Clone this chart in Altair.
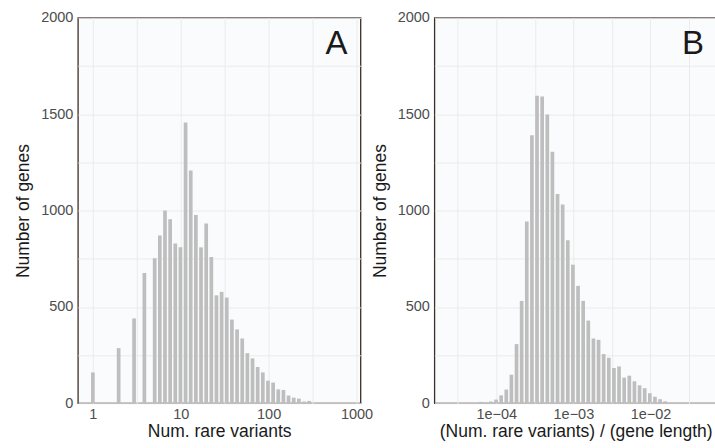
import altair as alt
import pandas as pd

# ---------------- data ----------------
# Panel A: histogram on log10 scale; bins are centred at k * A_BIN_WIDTH (log10 units)
A_BIN_WIDTH = 0.0586
A_bin_index = [0, 5, 8, 10, 12, 13, 14, 15, 16, 17, 18, 19, 20, 21, 22, 23, 24,
               25, 26, 27, 28, 29, 30, 31, 32, 33, 34, 35, 36, 37, 38, 39, 40, 41, 42]
A_counts = [160, 286, 440, 676, 752, 871, 1000, 955, 829, 810, 1457, 1207, 977, 809,
            933, 759, 560, 578, 548, 434, 383, 336, 260, 233, 188, 160, 117, 107, 72,
            69, 40, 29, 24, 9, 12]

# Panel B: histogram on log10 scale; first bin centre and bin width in log10 units
B_FIRST_CENTER = -4.203
B_BIN_WIDTH = 0.0665
B_counts = [7, 3, 9, 19, 41, 71, 148, 307, 531, 943, 1390, 1595, 1591, 1498, 1305,
            1086, 1031, 846, 719, 609, 531, 429, 336, 329, 255, 236, 183, 191, 133,
            143, 114, 93, 78, 52, 34, 21, 10]

A_x_ticks = [1, 10 ** 0.5, 10, 10 ** 1.5, 100, 10 ** 2.5, 1000]
B_x_ticks = [10 ** -4.5, 1e-4, 10 ** -3.5, 1e-3, 10 ** -2.5, 1e-2, 10 ** -1.5]
y_ticks = [0, 250, 500, 750, 1000, 1250, 1500, 1750, 2000]

A_domain = [0.675, 1110]
B_domain = [10 ** -4.803, 10 ** -1.137]

BAR_FRACTION = 0.72  # visible fraction of each bin

# ---------------- build tables ----------------
dfA = pd.DataFrame({"k": A_bin_index, "count": A_counts})
dfA["center"] = dfA["k"] * A_BIN_WIDTH
dfA["lo"] = 10 ** (dfA["center"] - A_BIN_WIDTH * BAR_FRACTION / 2)
dfA["hi"] = 10 ** (dfA["center"] + A_BIN_WIDTH * BAR_FRACTION / 2)

dfB = pd.DataFrame({"i": list(range(len(B_counts))), "count": B_counts})
dfB["center"] = B_FIRST_CENTER + dfB["i"] * B_BIN_WIDTH
dfB["lo"] = 10 ** (dfB["center"] - B_BIN_WIDTH * BAR_FRACTION / 2)
dfB["hi"] = 10 ** (dfB["center"] + B_BIN_WIDTH * BAR_FRACTION / 2)

FONT = "Liberation Sans"
BAR_COLOR = "#bebebe"
GRID = "#ebebeb"
LABEL_COLOR = "#4d4d4d"
TITLE_COLOR = "#1a1a1a"
W, H = 283, 386

decade = "abs(log(datum.value)/LN10 - round(log(datum.value)/LN10)) < 0.01"


def y_axis():
    return alt.Axis(values=y_ticks, format="d",
                    labelExpr="datum.value % 500 == 0 ? datum.label : ''",
                    title="Number of genes", grid=True, gridColor=GRID, domain=False,
                    tickSize=0, labelPadding=5, titlePadding=8)


def panel(df, domain, ticks, label_expr, title, letter):
    bars = alt.Chart(df).mark_bar(color=BAR_COLOR).encode(
        x=alt.X("lo:Q", scale=alt.Scale(type="log", domain=domain, nice=False, zero=False),
                axis=alt.Axis(values=ticks, labelExpr=label_expr, title=title, grid=True,
                              gridColor=GRID, domain=False, tickSize=0, labelPadding=4,
                              titlePadding=2, labelFlush=False)),
        x2="hi:Q",
        y=alt.Y("count:Q", scale=alt.Scale(domain=[0, 2000], nice=False), axis=y_axis()),
        y2=alt.datum(0),
    )
    text = alt.Chart(alt.Data(values=[{"t": letter}])).mark_text(
        font=FONT, fontSize=33, align="right", baseline="alphabetic", color=TITLE_COLOR
    ).encode(text="t:N", x=alt.value(W - 13), y=alt.value(36))
    return alt.layer(bars, text).properties(width=W, height=H)


chartA = panel(dfA, A_domain, A_x_ticks,
               f"{decade} ? format(datum.value, 'd') : ''",
               "Num. rare variants", "A")
chartB = panel(dfB, B_domain, B_x_ticks,
               f"{decade} ? '1e\u22120' + (-round(log(datum.value)/LN10)) : ''",
               "(Num. rare variants) / (gene length)", "B")

chart = alt.hconcat(chartA, chartB, spacing=74, bounds="flush").properties(
    padding={"left": 14, "top": 8.5, "right": -3, "bottom": 0},
    background="white",
).configure_view(
    fill="#fafbfc", stroke="#3d2f2a", strokeWidth=1.3
).configure_axis(
    labelFont=FONT, labelFontSize=14.5, labelColor=LABEL_COLOR,
    titleFont=FONT, titleFontSize=17.5, titleFontWeight="normal", titleColor=TITLE_COLOR,
    gridWidth=1
)

chart.save("out.html", embed_options={"renderer": "svg", "actions": False})
